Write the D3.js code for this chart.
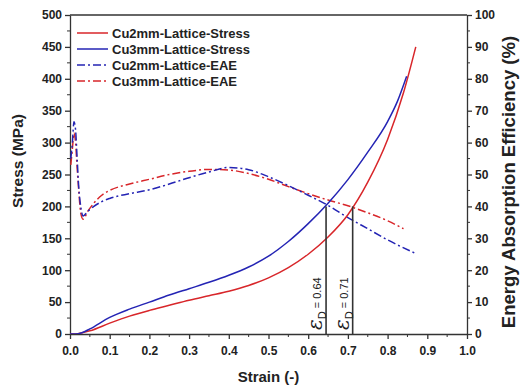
<!DOCTYPE html>
<html><head><meta charset="utf-8">
<script src="https://cdn.jsdelivr.net/npm/d3@7"></script>
<style>
html,body{margin:0;padding:0;background:#fff;}
svg{display:block;font-family:Arial,"Liberation Sans",sans-serif;}
</style></head>
<body><svg id="c" width="524" height="389"></svg>
<script>
// ---- data ----
const seriesNames = ["Cu2mm-Lattice-Stress","Cu3mm-Lattice-Stress","Cu2mm-Lattice-EAE","Cu3mm-Lattice-EAE"];
const cu2StressStrain = [0,0.015,0.03,0.05,0.1,0.15,0.2,0.25,0.3,0.35,0.4,0.45,0.5,0.55,0.6,0.65,0.7,0.75,0.8,0.84,0.871];
const cu2Stress       = [0,0,2,5,17,28,37,45,53,60,67,76,88,104,125,152,187,238,305,378,450];
const cu3StressStrain = [0,0.015,0.03,0.05,0.1,0.15,0.2,0.25,0.3,0.35,0.4,0.45,0.5,0.55,0.6,0.65,0.7,0.75,0.8,0.825,0.848];
const cu3Stress       = [0,0,2,8,26,39,50,61,71,81,92,105,122,145,173,205,242,285,333,365,404];
const eaeBlueStrain = [0.002,0.006,0.010,0.014,0.018,0.022,0.027,0.033,0.045,0.06,0.08,0.1,0.15,0.2,0.25,0.3,0.35,0.4,0.45,0.5,0.55,0.6,0.65,0.7,0.75,0.8,0.873];
const eaeBlue       = [55,60,66.5,64,55,46,40,37,38.5,40,41.5,42.5,44,45.2,47,49,50.8,52.2,51.5,49.3,46.5,43.5,40.3,36.5,33,29.5,25.1];
const eaeRedStrain  = [0.002,0.006,0.010,0.014,0.018,0.022,0.027,0.033,0.045,0.06,0.08,0.1,0.15,0.2,0.25,0.3,0.35,0.4,0.45,0.5,0.55,0.6,0.65,0.7,0.75,0.8,0.84];
const eaeRed        = [53,58,63,60,52,45,38,36,38.5,41,43.5,45,47,48.5,50,51,51.6,51.4,50.3,48.5,46.2,44,42,40.2,38,35.5,33];
const densStrains = [0.645, 0.712];
const densStress  = [200, 200];
const densLabels  = ["0.64", "0.71"];
const xTicks = [0,0.1,0.2,0.3,0.4,0.5,0.6,0.7,0.8,0.9,1.0];
const yLeftTicks = [0,50,100,150,200,250,300,350,400,450,500];
const yRightTicks = [0,10,20,30,40,50,60,70,80,90,100];

// ---- layout ----
const RED = "#d8262a", BLUE = "#2424b4", AX = "#333";
const L = 70, R = 467, T = 15, B = 334;
const svg = d3.select("#c");
const x = d3.scaleLinear().domain([0,1]).range([L,R]);
const yL = d3.scaleLinear().domain([0,500]).range([B,T]);
const yR = d3.scaleLinear().domain([0,100]).range([B,T]);

// minor ticks
const g = svg.append("g");
d3.range(0.05,1,0.1).forEach(v=>g.append("line").attr("x1",x(v)).attr("x2",x(v)).attr("y1",B).attr("y2",B+3).attr("stroke",AX));
d3.range(25,500,50).forEach(v=>g.append("line").attr("x1",L).attr("x2",L-3).attr("y1",yL(v)).attr("y2",yL(v)).attr("stroke",AX));
d3.range(5,100,10).forEach(v=>g.append("line").attr("x1",R).attr("x2",R+3).attr("y1",yR(v)).attr("y2",yR(v)).attr("stroke",AX));

const fmtX = d3.format(".1f");
const ax = svg.append("g").attr("transform",`translate(0,${B})`)
  .call(d3.axisBottom(x).tickValues(xTicks).tickFormat(fmtX).tickSize(5).tickSizeOuter(0));
const al = svg.append("g").attr("transform",`translate(${L},0)`)
  .call(d3.axisLeft(yL).tickValues(yLeftTicks).tickSize(5).tickSizeOuter(0));
const ar = svg.append("g").attr("transform",`translate(${R},0)`)
  .call(d3.axisRight(yR).tickValues(yRightTicks).tickSize(5).tickSizeOuter(0));
[ax,al,ar].forEach(a=>{
  a.selectAll("path,line").attr("stroke",AX).attr("stroke-width",1.3);
  a.selectAll("text").attr("font-size",12).attr("font-weight","bold").attr("fill","#222")
   .attr("font-family","Arial, 'Liberation Sans', sans-serif");
});
ax.selectAll("text").attr("dy","1.1em");
al.selectAll("text").attr("x",-8);
ar.selectAll("text").attr("x",8);
svg.append("line").attr("x1",L).attr("x2",R).attr("y1",T).attr("y2",T).attr("stroke",AX).attr("stroke-width",1.3);

// titles
svg.append("text").attr("transform","translate(23,161) rotate(-90)").attr("text-anchor","middle")
  .attr("font-size",15.5).attr("font-weight","bold").attr("fill","#222").text("Stress (MPa)");
svg.append("text").attr("transform","translate(515,182) rotate(-90)").attr("text-anchor","middle")
  .attr("font-size",18.5).attr("font-weight","bold").attr("fill","#222").text("Energy Absorption Efficiency (%)");
svg.append("text").attr("x",(L+R)/2).attr("y",382).attr("text-anchor","middle")
  .attr("font-size",15).attr("font-weight","bold").attr("fill","#222").text("Strain (-)");

// curves
svg.append("defs").append("clipPath").attr("id","pc").append("rect")
  .attr("x",L).attr("y",T).attr("width",R-L).attr("height",B-T);
const plot = svg.append("g").attr("clip-path","url(#pc)");
function draw(xs, ys, yScale, color, dash){
  const pts = xs.map((s,i)=>[s, ys[i]]);
  const line = d3.line().x(d=>x(d[0])).y(d=>yScale(d[1])).curve(d3.curveMonotoneX);
  plot.append("path").attr("d",line(pts)).attr("fill","none").attr("stroke",color)
    .attr("stroke-width",1.5).attr("stroke-dasharray",dash||null);
}
const DD = "8,3,2,3";
draw(eaeRedStrain, eaeRed, yR, RED, DD);
draw(eaeBlueStrain, eaeBlue, yR, BLUE, DD);
draw(cu2StressStrain, cu2Stress, yL, RED);
draw(cu3StressStrain, cu3Stress, yL, BLUE);

// densification lines
densStrains.forEach((s,i)=>{
  svg.append("line").attr("x1",x(s)).attr("x2",x(s)).attr("y1",B).attr("y2",yL(densStress[i]))
    .attr("stroke","#333").attr("stroke-width",1.6);
  const t = svg.append("text").attr("transform",`translate(${x(s)-4},${B-4}) rotate(-90)`)
    .attr("fill","#222");
  t.append("tspan").attr("font-size",20).attr("font-style","italic").attr("font-family","'DejaVu Serif', serif").text("ε");
  t.append("tspan").attr("font-size",11).attr("dy",4).text("D");
  t.append("tspan").attr("font-size",11).attr("dy",-5).text(" = " + densLabels[i]);
});

// legend
const leg = [
  {name:seriesNames[0], c:RED, d:null},
  {name:seriesNames[1], c:BLUE, d:null},
  {name:seriesNames[2], c:BLUE, d:DD},
  {name:seriesNames[3], c:RED, d:DD}
];
leg.forEach((e,i)=>{
  const yy = 33 + i*16;
  svg.append("line").attr("x1",77).attr("x2",108).attr("y1",yy).attr("y2",yy)
    .attr("stroke",e.c).attr("stroke-width",1.5).attr("stroke-dasharray",e.d);
  svg.append("text").attr("x",112).attr("y",yy+4.5).attr("font-size",13).attr("font-weight","bold")
    .attr("fill","#222").text(e.name);
});
</script></body></html>
